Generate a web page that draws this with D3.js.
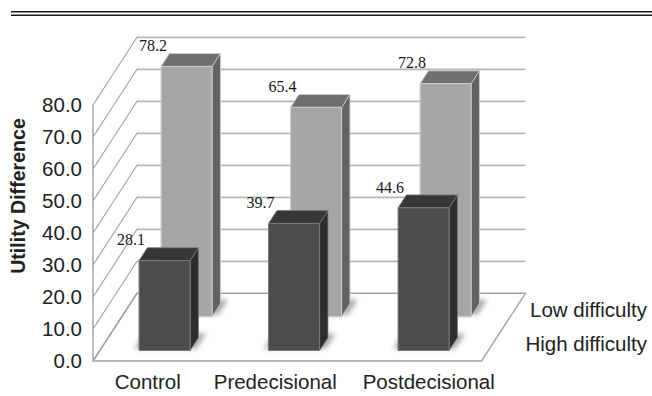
<!DOCTYPE html>
<html>
<head>
<meta charset="utf-8">
<script src="https://cdn.jsdelivr.net/npm/d3@7"></script>
<style>
  html, body { margin: 0; padding: 0; background: #fff; }
  svg { display: block; }
</style>
</head>
<body>
<svg id="chart" width="652" height="396"></svg>
<script>
// Chart data
const categories = ["Control", "Predecisional", "Postdecisional"];
const seriesNames = ["High difficulty", "Low difficulty"];   // front row, back row
const highDifficulty = [28.1, 39.7, 44.6];
const lowDifficulty = [78.2, 65.4, 72.8];
const yTicks = [0, 10, 20, 30, 40, 50, 60, 70, 80];
const yTitle = "Utility Difference";

const svg = d3.select("#chart");
const W = 652, H = 396;

// Oblique 3D frame: front plane x/y scales plus a depth vector
const xBand = d3.scaleBand().domain(categories).range([93, 481.5])
  .paddingInner(0.606).paddingOuter(0.303);
const y = d3.scaleLinear().domain([0, 80]).range([361, 105]);
const depth = d3.scaleBand().domain(seriesNames).range([0, 1])
  .paddingInner(0.62).paddingOuter(0.31);
const DX = 44, DY = -67.7;
const P = (x, v, t) => [x + t * DX, y(v) + t * DY];
const [xL, xR] = xBand.range();

const defs = svg.append("defs");
defs.append("filter").attr("id", "soft").attr("x", "-50%").attr("y", "-50%")
  .attr("width", "200%").attr("height", "200%")
  .append("feGaussianBlur").attr("stdDeviation", 2.6);

// Double rule across the top
[11.8, 15.3].forEach(yy => {
  svg.append("line").attr("x1", 11).attr("x2", W).attr("y1", yy).attr("y2", yy)
    .attr("stroke", "#1c1c1c").attr("stroke-width", 1.6);
});

const walls = svg.append("g");
const line = d3.line();

// Floor
walls.append("path")
  .attr("d", line([P(xL, 0, 0), P(xR, 0, 0), P(xR, 0, 1), P(xL, 0, 1)]) + "Z")
  .attr("fill", "#fff").attr("stroke", "#a3a3a3").attr("stroke-width", 1.4);

// Gridlines: diagonal on the side wall, horizontal on the back wall
yTicks.forEach(v => {
  walls.append("path").attr("d", line([P(xL, v, 0), P(xL, v, 1)]))
    .attr("fill", "none").attr("stroke", "#9c9c9c").attr("stroke-width", 1.1);
  if (v > 0) {
    walls.append("path").attr("d", line([P(xL, v, 1), P(xR, v, 1)]))
      .attr("fill", "none").attr("stroke", "#b5b5b5").attr("stroke-width", 1.8);
  }
});
// Side wall front edge
walls.append("path").attr("d", line([P(xL, 0, 0), P(xL, 80, 0)]))
  .attr("fill", "none").attr("stroke", "#a3a3a3").attr("stroke-width", 1.4);

// Value axis labels
svg.append("g").selectAll("text").data(yTicks).join("text")
  .attr("x", 82).attr("y", d => y(d)).attr("dy", "0.33em")
  .attr("text-anchor", "end")
  .attr("font-family", "'Liberation Sans', Arial, sans-serif")
  .attr("font-size", 20.5).attr("fill", "#222")
  .text(d => d.toFixed(1));

// Axis title
svg.append("text")
  .attr("transform", "translate(25,196) rotate(-90)")
  .attr("text-anchor", "middle")
  .attr("font-family", "'Liberation Sans', Arial, sans-serif")
  .attr("font-weight", "bold").attr("font-size", 19.6).attr("fill", "#222")
  .text(yTitle);

// Category labels
const labelNudge = [-10, -12, 12];
svg.append("g").selectAll("text").data(categories).join("text")
  .attr("x", (d, i) => xBand(d) + xBand.bandwidth() / 2 + labelNudge[i])
  .attr("y", 389).attr("text-anchor", "middle")
  .attr("font-family", "'Liberation Sans', Arial, sans-serif")
  .attr("font-size", 20.5).attr("fill", "#222")
  .text(d => d);

// Series labels along the floor's right edge
svg.append("g").selectAll("text").data(seriesNames).join("text")
  .attr("x", 647)
  .attr("y", d => P(xR, 0, depth(d) + depth.bandwidth() / 2)[1])
  .attr("dy", "0.35em").attr("text-anchor", "end")
  .attr("font-family", "'Liberation Sans', Arial, sans-serif")
  .attr("font-size", 20.5).attr("fill", "#222")
  .text(d => d);

// Bars: back row first so the front row overlaps it
const styles = {
  "High difficulty": { front: "#4c4c4c", top: "#373737", side: "#2d2d2d", edge: "#7a7a7a" },
  "Low difficulty": { front: "#a6a6a6", top: "#707070", side: "#626262", edge: "#cdcdcd" }
};
const rows = [
  { name: "Low difficulty", values: lowDifficulty },
  { name: "High difficulty", values: highDifficulty }
];

const bars = svg.append("g");
const labels = [];
rows.forEach(row => {
  const t0 = depth(row.name), t1 = t0 + depth.bandwidth();
  const s = styles[row.name];
  row.values.forEach((v, i) => {
    const c = categories[i];
    const x0 = xBand(c), x1 = x0 + xBand.bandwidth();
    const g = bars.append("g");
    // soft contact shadow on the floor
    g.append("path")
      .attr("d", line([P(x0 - 6, 0, t0 + 0.03), P(x1 + 5, 0, t0 + 0.03),
                       P(x1 + 5, 0, t1 + 0.06), P(x0 - 6, 0, t1 + 0.06)]) + "Z")
      .attr("fill", "#8a8a8a").attr("opacity", 0.75).attr("filter", "url(#soft)");
    // right side face
    g.append("path")
      .attr("d", line([P(x1, 0, t0), P(x1, 0, t1), P(x1, v, t1), P(x1, v, t0)]) + "Z")
      .attr("fill", s.side).attr("stroke", s.edge).attr("stroke-width", 0.8);
    // top face
    g.append("path")
      .attr("d", line([P(x0, v, t0), P(x1, v, t0), P(x1, v, t1), P(x0, v, t1)]) + "Z")
      .attr("fill", s.top).attr("stroke", s.edge).attr("stroke-width", 0.8);
    // front face
    g.append("path")
      .attr("d", line([P(x0, 0, t0), P(x1, 0, t0), P(x1, v, t0), P(x0, v, t0)]) + "Z")
      .attr("fill", s.front).attr("stroke", s.edge).attr("stroke-width", 1);
    const top = P((x0 + x1) / 2, v, t1);
    labels.push({ x: top[0] - 42, y: top[1] - 8, v });
  });
});

// Value labels above each bar
svg.append("g").selectAll("text").data(labels).join("text")
  .attr("x", d => d.x).attr("y", d => d.y).attr("dy", "0.35em")
  .attr("text-anchor", "middle")
  .attr("font-family", "'Liberation Serif', 'Times New Roman', serif")
  .attr("font-size", 16).attr("fill", "#161616")
  .text(d => d.v.toFixed(1));
</script>
</body>
</html>
